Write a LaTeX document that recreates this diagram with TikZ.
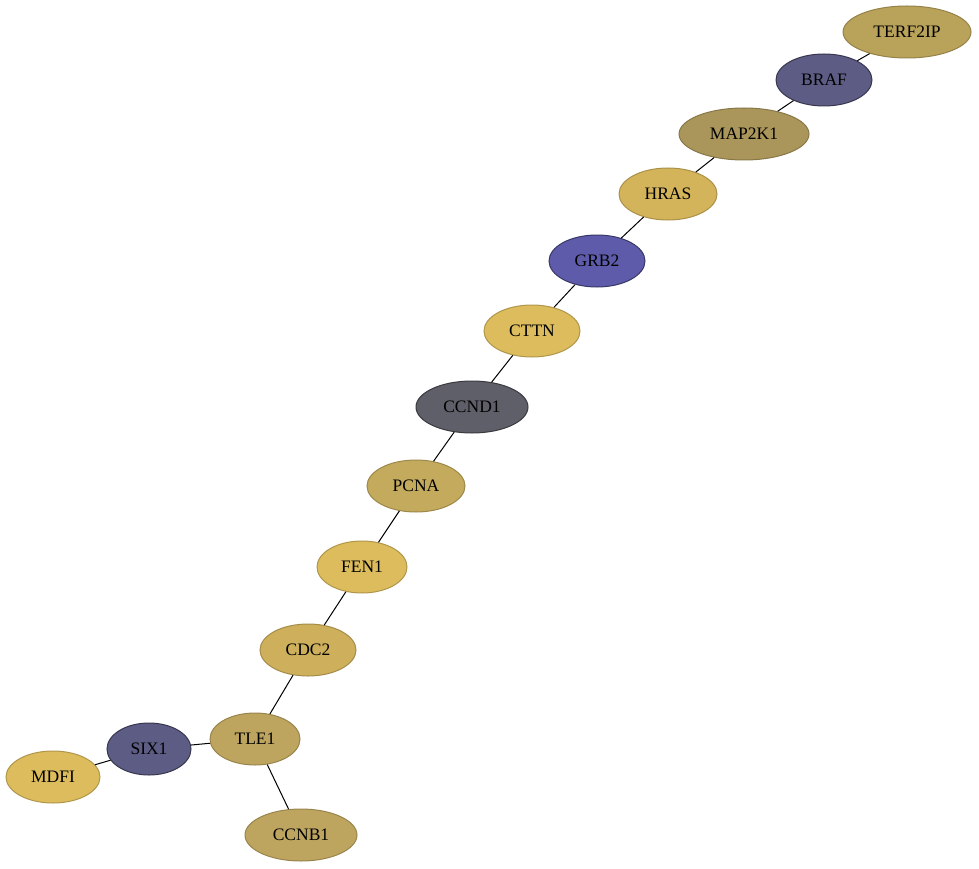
\documentclass[tikz,border=0pt]{standalone}
\usepackage{fontspec}
\setmainfont{Liberation Serif}
\usetikzlibrary{shapes.geometric}

\definecolor{ochre}{RGB}{185,162,90}
\definecolor{olive}{RGB}{170,150,90}
\definecolor{sand}{RGB}{212,180,90}
\definecolor{gold}{RGB}{220,188,92}
\definecolor{tan}{RGB}{196,170,92}
\definecolor{mustard}{RGB}{205,175,92}
\definecolor{khaki}{RGB}{190,165,95}
\definecolor{slate}{RGB}{93,92,132}
\definecolor{indigo}{RGB}{94,92,170}
\definecolor{graphite}{RGB}{95,95,105}

\begin{document}
\begin{tikzpicture}[x=1pt, y=-1pt,
    every node/.style={ellipse, draw, line width=1pt, inner sep=0pt, minimum height=52pt,
        font=\fontsize{17.5}{20}\selectfont},
    yellowish/.style={fill=#1, draw=#1!80!black},
    bluish/.style={fill=#1, draw=#1!60!black}]
    \useasboundingbox (0,0) rectangle (979,869);

    \node[yellowish=ochre, minimum width=128pt] (terf) at (907,32) {TERF2IP};
    \node[bluish=slate, minimum width=96pt] (braf) at (824,80) {BRAF};
    \node[yellowish=olive, minimum width=130pt] (mapk) at (744,134) {MAP2K1};
    \node[yellowish=sand, minimum width=98pt] (hras) at (668,194) {HRAS};
    \node[bluish=indigo, minimum width=96pt] (grb) at (597,261) {GRB2};
    \node[yellowish=gold, minimum width=96pt] (cttn) at (532,331) {CTTN};
    \node[bluish=graphite, minimum width=112pt] (ccnd) at (472,407) {CCND1};
    \node[yellowish=tan, minimum width=98pt] (pcna) at (416,486) {PCNA};
    \node[yellowish=gold, minimum width=90pt] (fen) at (362,567) {FEN1};
    \node[yellowish=mustard, minimum width=96pt] (cdc) at (308,650) {CDC2};
    \node[yellowish=khaki, minimum width=90pt] (tle) at (255,739) {TLE1};
    \node[bluish=slate, minimum width=84pt] (six) at (149,749) {SIX1};
    \node[yellowish=gold, minimum width=94pt] (mdfi) at (53,777) {MDFI};
    \node[yellowish=khaki, minimum width=112pt] (ccnb) at (301,835) {CCNB1};

    % main chain
    \draw[line width=1pt] (terf) -- (braf) -- (mapk) -- (hras) -- (grb) -- (cttn) -- (ccnd)
        -- (pcna) -- (fen) -- (cdc) -- (tle);

    % branches off TLE1
    \draw[line width=1pt] (tle) -- (six) -- (mdfi);
    \draw[line width=1pt] (tle) -- (ccnb);
\end{tikzpicture}
\end{document}
